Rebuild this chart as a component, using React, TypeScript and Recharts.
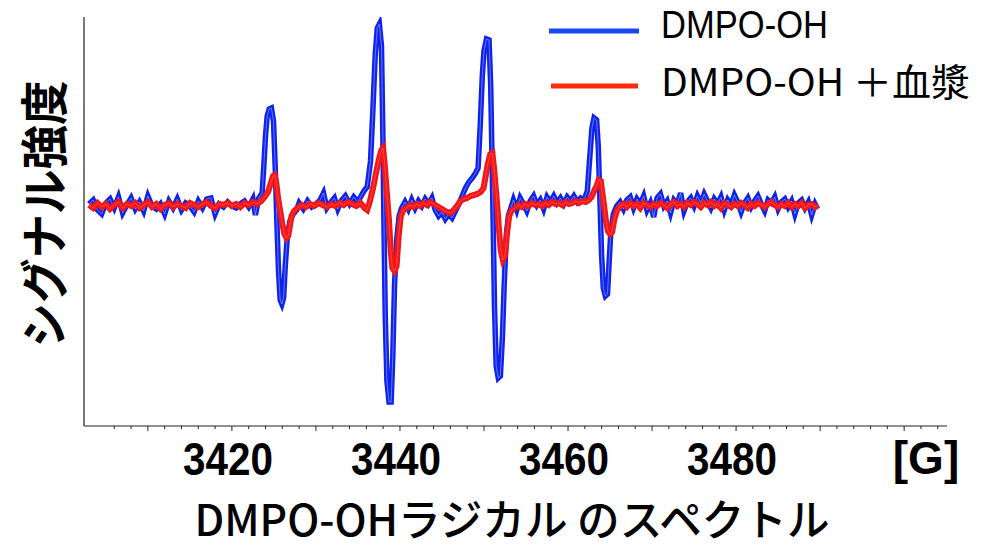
import { Legend, Line, LineChart, XAxis, YAxis } from "recharts"

// magnetic field [G] and signal (arb. units, baseline = 0)
const blueField = [
  3403.0, 3403.5, 3404.0, 3404.5, 3405.0, 3405.5, 3406.0, 3406.5, 3407.0, 3407.5,
  3408.0, 3408.5, 3409.0, 3409.5, 3410.0, 3410.5, 3411.0, 3411.5, 3412.0, 3412.5,
  3413.0, 3413.5, 3414.0, 3414.5, 3415.0, 3415.5, 3416.0, 3416.5, 3417.0, 3417.5,
  3418.0, 3418.5, 3419.0, 3419.5, 3420.0, 3420.5, 3421.0, 3421.5, 3422.0, 3422.5,
  3422.8, 3423.2,
  3423.6, 3423.8, 3424.0, 3424.2, 3424.45, 3424.7, 3424.95, 3425.15, 3425.35, 3425.55,
  3425.75, 3425.95, 3426.15, 3426.35, 3426.6, 3426.9, 3427.3, 3427.7,
  3428.0, 3428.5, 3429.0, 3429.5, 3430.0, 3430.5, 3430.9, 3431.3, 3431.8, 3432.2,
  3432.6, 3433.0, 3433.5, 3434.0, 3434.5, 3435.0, 3435.5, 3435.8,
  3436.1, 3436.5, 3436.8, 3437.05, 3437.3, 3437.55, 3437.8, 3437.95, 3438.1, 3438.25,
  3438.45, 3438.7, 3438.95, 3439.15, 3439.35, 3439.6, 3439.9, 3440.2,
  3440.6, 3441.0, 3441.4, 3441.8, 3442.2, 3442.6, 3443.0, 3443.4, 3443.8, 3444.2,
  3444.6, 3445.0, 3445.4, 3445.8, 3446.2, 3446.6, 3447.0, 3447.4, 3447.8, 3448.2,
  3448.6, 3449.0,
  3449.3, 3449.55, 3449.8, 3450.0, 3450.3, 3450.6, 3450.8, 3450.95, 3451.1, 3451.25,
  3451.45, 3451.7, 3451.95, 3452.2, 3452.4, 3452.65, 3452.9, 3453.2,
  3453.5, 3453.9, 3454.3, 3454.7, 3455.1, 3455.5, 3455.9, 3456.3, 3456.7, 3457.1,
  3457.5, 3457.9, 3458.3, 3458.7, 3459.1, 3459.5, 3459.9, 3460.3, 3460.7, 3461.1,
  3461.5, 3461.9,
  3462.3, 3462.6, 3462.85, 3463.1, 3463.4, 3463.6, 3463.8, 3464.0, 3464.2, 3464.45,
  3464.7, 3464.9, 3465.1, 3465.4, 3465.8,
  3466.2, 3466.6, 3467.0, 3467.4, 3467.8, 3468.2, 3468.6, 3469.0, 3469.4, 3469.8,
  3470.2, 3470.6, 3471.0, 3471.4, 3471.8, 3472.2, 3472.6, 3473.0, 3473.4, 3473.8,
  3474.2, 3474.6, 3475.0, 3475.4, 3475.8, 3476.2, 3476.6, 3477.0, 3477.4, 3477.8,
  3478.2, 3478.6, 3479.0, 3479.4, 3479.8, 3480.2, 3480.6, 3481.0, 3481.4, 3481.8,
  3482.2, 3482.6, 3483.0, 3483.4, 3483.8, 3484.2, 3484.6, 3485.0, 3485.4, 3485.8,
  3486.2, 3486.6, 3487.0, 3487.4, 3487.8, 3488.2, 3488.6, 3489.0, 3489.4, 3489.7,
]
const blueSignal = [
  2, 6, -4, -8, 3, 7, -2, 9, -7, 1,
  8, -3, 4, -5, 10, 0, -3, 2, -8, 5,
  -2, 7, -4, 3, 0, -6, 5, -2, 7, 8,
  -8, 2, -1, 4, 0, -2, 2, 5, -1, 7,
  -9, 8,
  13, 40, 70, 90, 97, 98, 85, 40, -15, -65,
  -94, -98, -92, -60, -30, -15, -8, -4,
  3, -3, 5, -1, 2, 6, 13, -2, 4, 8,
  -3, 5, 10, 2, 9, 4, 12, 16,
  19, 45, 100, 150, 178, 182, 160, 80, -20, -110,
  -175, -196, -196, -150, -80, -35, -10, -2,
  4, -3, 6, -2, 5, 0, 7, 2, 8, -4,
  -10, -6, -13, -8, -12, -5, 2, 10, 18, 24,
  28, 33,
  38, 80, 130, 155, 167, 166, 120, 50, -20, -100,
  -160, -172, -170, -130, -80, -30, -10, -2,
  6, -4, 8, 2, -5, 5, 10, 1, 6, -3,
  9, 4, 10, 3, 8, 2, 9, 5, 10, 4,
  8, 6,
  15, 50, 78, 88, 86, 60, 5, -50, -82, -90,
  -88, -55, -25, -8, 0,
  4, -3, 6, 9, -2, 7, 2, 10, -4, 3,
  -11, 8, 12, 0, 5, -7, 6, 2, 13, -5,
  4, 8, 0, 10, 3, 12, 5, -2, 7, 2,
  9, -4, 6, 1, 11, 4, -6, 3, 8, -1,
  5, 10, 2, -5, 6, 3, 9, -3, 4, 7,
  -1, 5, -8, 3, 6, -2, 4, -9, 2, -3,
]

const redField = [
  3403.0, 3403.5, 3404.0, 3404.5, 3405.0, 3405.5, 3406.0, 3406.5, 3407.0, 3407.5,
  3408.0, 3408.5, 3409.0, 3409.5, 3410.0, 3410.5, 3411.0, 3411.5, 3412.0, 3412.5,
  3413.0, 3413.5, 3414.0, 3414.5, 3415.0, 3415.5, 3416.0, 3416.5, 3417.0, 3417.5,
  3418.0, 3418.5, 3419.0, 3419.5, 3420.0, 3420.5, 3421.0, 3421.5, 3422.0, 3422.5,
  3423.0, 3423.5,
  3423.9, 3424.3, 3424.6, 3424.9, 3425.1, 3425.3, 3425.5, 3425.75, 3426.0, 3426.25,
  3426.5, 3426.7, 3426.9, 3427.1, 3427.4, 3427.8,
  3428.3, 3428.8, 3429.3, 3429.8, 3430.3, 3430.8, 3431.3, 3431.8, 3432.3, 3432.8,
  3433.3, 3433.8, 3434.3, 3434.8, 3435.3, 3435.8, 3436.1,
  3436.4, 3436.8, 3437.2, 3437.5, 3437.8, 3438.0, 3438.2, 3438.45, 3438.7, 3438.9,
  3439.1, 3439.35, 3439.6, 3439.85, 3440.1, 3440.4, 3440.8,
  3441.2, 3441.6, 3442.0, 3442.4, 3442.8, 3443.2, 3443.6, 3444.0, 3444.4, 3444.8,
  3445.2, 3445.6, 3446.0, 3446.4, 3446.8, 3447.2, 3447.6, 3448.0, 3448.4, 3448.8,
  3449.2, 3449.6,
  3449.95, 3450.2, 3450.45, 3450.75, 3451.0, 3451.2, 3451.4, 3451.6, 3451.8, 3452.0,
  3452.25, 3452.5, 3452.75, 3453.0, 3453.3, 3453.7,
  3454.1, 3454.5, 3454.9, 3455.3, 3455.7, 3456.1, 3456.5, 3456.9, 3457.3, 3457.7,
  3458.1, 3458.5, 3458.9, 3459.3, 3459.7, 3460.1, 3460.5, 3460.9, 3461.3, 3461.7,
  3462.1, 3462.5,
  3462.8, 3463.1, 3463.4, 3463.65, 3463.9, 3464.1, 3464.3, 3464.5, 3464.75, 3465.0,
  3465.25, 3465.5, 3465.8, 3466.2,
  3466.6, 3467.0, 3467.4, 3467.8, 3468.2, 3468.6, 3469.0, 3469.4, 3469.8, 3470.2,
  3470.6, 3471.0, 3471.4, 3471.8, 3472.2, 3472.6, 3473.0, 3473.4, 3473.8, 3474.2,
  3474.6, 3475.0, 3475.4, 3475.8, 3476.2, 3476.6, 3477.0, 3477.4, 3477.8, 3478.2,
  3478.6, 3479.0, 3479.4, 3479.8, 3480.2, 3480.6, 3481.0, 3481.4, 3481.8, 3482.2,
  3482.6, 3483.0, 3483.4, 3483.8, 3484.2, 3484.6, 3485.0, 3485.4, 3485.8, 3486.2,
  3486.6, 3487.0, 3487.4, 3487.8, 3488.2, 3488.6, 3489.0, 3489.4, 3489.7,
]
const redSignal = [
  1, -2, 3, -1, 2, -3, 1, 4, -2, 2,
  0, 3, -2, 1, 4, -1, 2, -3, 1, 3,
  -1, 2, 0, -2, 3, 1, -1, 2, 4, 0,
  -2, 2, 1, 3, 0, 2, -1, 3, 1, 4,
  2, 5,
  9, 14, 22, 30, 31, 22, 8, -5, -18, -28,
  -32, -30, -20, -10, -5, -2,
  1, -1, 2, 0, 3, 1, -1, 2, 0, 3,
  1, 4, 2, 0, 3, -2, -4,
  4, 18, 35, 47, 56, 58, 40, 12, -15, -45,
  -62, -65, -60, -30, -10, -4, -2,
  1, -1, 2, 0, 3, 1, 4, 2, 0, -2,
  -4, -6, -7, -4, 0, 5, 7, 8, 10, 11,
  12, 14,
  18, 30, 42, 52, 53, 38, 18, -2, -25, -45,
  -54, -50, -27, -10, -4, -2,
  1, -1, 2, 0, 3, 1, 2, 0, 3, 1,
  4, 2, 3, 1, 4, 2, 3, 5, 3, 5,
  4, 6,
  9, 15, 20, 26, 25, 12, 0, -14, -25, -28,
  -26, -14, -5, 0,
  2, -1, 3, 0, 2, -2, 3, 1, -1, 2,
  0, 3, 1, -2, 2, 4, 0, 2, -1, 3,
  1, 4, 2, -1, 3, 1, 4, 0, 2, -2,
  3, 1, -1, 2, 0, 3, 1, -2, 2, 0,
  3, 1, -1, 2, 4, 1, -1, 2, 0, 3,
  -1, 2, 0, 3, -2, 1, 2, -1, 1,
]

const fieldTicks = [
  3406, 3408, 3410, 3412, 3414, 3416, 3418, 3420, 3422, 3424, 3426, 3428, 3430,
  3432, 3434, 3436, 3438, 3440, 3442, 3444, 3446, 3448, 3450, 3452, 3454, 3456,
  3458, 3460, 3462, 3464, 3466, 3468, 3470, 3472, 3474, 3476, 3478, 3480, 3482,
  3484, 3486, 3488, 3490, 3492, 3494, 3496, 3498, 3500, 3502, 3504,
]
const labeledTicks = [3420, 3440, 3460, 3480]
const seriesNames = ["DMPO-OH", "DMPO-OH ＋血漿"]

const blueData = blueField.map((x, i) => ({ x, y: blueSignal[i] }))
const redData = redField.map((x, i) => ({ x, y: redSignal[i] }))

const FONT = "'Noto Sans CJK JP', 'Noto Sans', sans-serif"
const LATIN = "'Liberation Sans', Arial, sans-serif"
const BLUE = "#0d22ec"
const RED = "#f41616"

function FieldTick(props: any) {
  const { x, y, payload } = props
  const v = payload.value
  const major = v % 10 === 0
  return (
    <g>
      <line x1={x} x2={x} y1={y} y2={y + (major ? 5 : 3)} stroke="#222" strokeWidth={1} />
      {labeledTicks.includes(v) && (
        <text
          x={x - 4}
          y={y + 49}
          textAnchor="middle"
          fontFamily={LATIN}
          fontWeight={700}
          fontSize={46}
          textLength={90}
          lengthAdjust="spacingAndGlyphs"
          fill="#000"
        >
          {v}
        </text>
      )}
    </g>
  )
}

function SpectrumLegend() {
  return (
    <svg width={450} height={110}>
      <line x1={9} x2={99} y1={31} y2={31} stroke="#1a48f0" strokeWidth={5} />
      <text x={121} y={38} fontFamily={LATIN} fontSize={39} textLength={167} lengthAdjust="spacingAndGlyphs">
        {seriesNames[0]}
      </text>
      <line x1={11} x2={98} y1={86} y2={86} stroke="#ff2a0a" strokeWidth={5} />
      <text x={121} y={96} fontFamily={FONT} fontSize={38} textLength={309} lengthAdjust="spacingAndGlyphs">
        {seriesNames[1]}
      </text>
    </svg>
  )
}

export default function App() {
  return (
    <div style={{ position: "absolute", left: 0, top: 0, width: 992, height: 549, background: "#fff" }}>
      <LineChart
        width={992}
        height={549}
        margin={{ top: 17, right: 45, bottom: 63, left: 83 }}
      >
        <XAxis
          type="number"
          dataKey="x"
          domain={[3402.4, 3505.1]}
          allowDataOverflow
          ticks={fieldTicks}
          interval={0}
          tick={<FieldTick />}
          tickLine={false}
          tickSize={0}
          tickMargin={0}
          height={60}
          axisLine={{ stroke: "#222", strokeWidth: 1.2 }}
        />
        <YAxis
          type="number"
          dataKey="y"
          domain={[-220, 189]}
          allowDataOverflow
          tick={false}
          tickLine={false}
          tickSize={0}
          width={1}
          axisLine={{ stroke: "#222", strokeWidth: 1.2 }}
        />
        <Legend
          layout="vertical"
          align="center"
          verticalAlign="middle"
          content={<SpectrumLegend />}
          wrapperStyle={{ position: "absolute", left: 540, top: 0, width: 450, height: 110 }}
        />
        <Line data={blueData} dataKey="y" name={seriesNames[0]} type="linear" stroke={BLUE} strokeWidth={5.5} dot={false} isAnimationActive={false} />
        <Line data={blueData} dataKey="y" legendType="none" type="linear" stroke="#fff" strokeOpacity={0.55} strokeWidth={0.7} dot={false} isAnimationActive={false} />
        <Line data={redData} dataKey="y" name={seriesNames[1]} type="linear" stroke={RED} strokeWidth={6} dot={false} isAnimationActive={false} />
        <Line data={redData} dataKey="y" legendType="none" type="linear" stroke="#fff" strokeOpacity={0.35} strokeWidth={0.6} dot={false} isAnimationActive={false} />
      </LineChart>
      <svg width={992} height={549} style={{ position: "absolute", left: 0, top: 0, pointerEvents: "none" }}>
        <text
          transform="translate(41 214) rotate(-90)"
          textAnchor="middle"
          dominantBaseline="central"
          fontFamily={FONT}
          fontWeight={700}
          fontSize={48}
          textLength={267}
          lengthAdjust="spacingAndGlyphs"
        >
          シグナル強度
        </text>
        <text x={926} y={474} textAnchor="middle" fontFamily={LATIN} fontWeight={700} fontSize={46}>
          [G]
        </text>
        <text
          x={512}
          y={536}
          textAnchor="middle"
          fontFamily={FONT}
          fontWeight={500}
          fontSize={43}
          textLength={635}
          lengthAdjust="spacingAndGlyphs"
        >
          DMPO-OHラジカル のスペクトル
        </text>
      </svg>
    </div>
  )
}
